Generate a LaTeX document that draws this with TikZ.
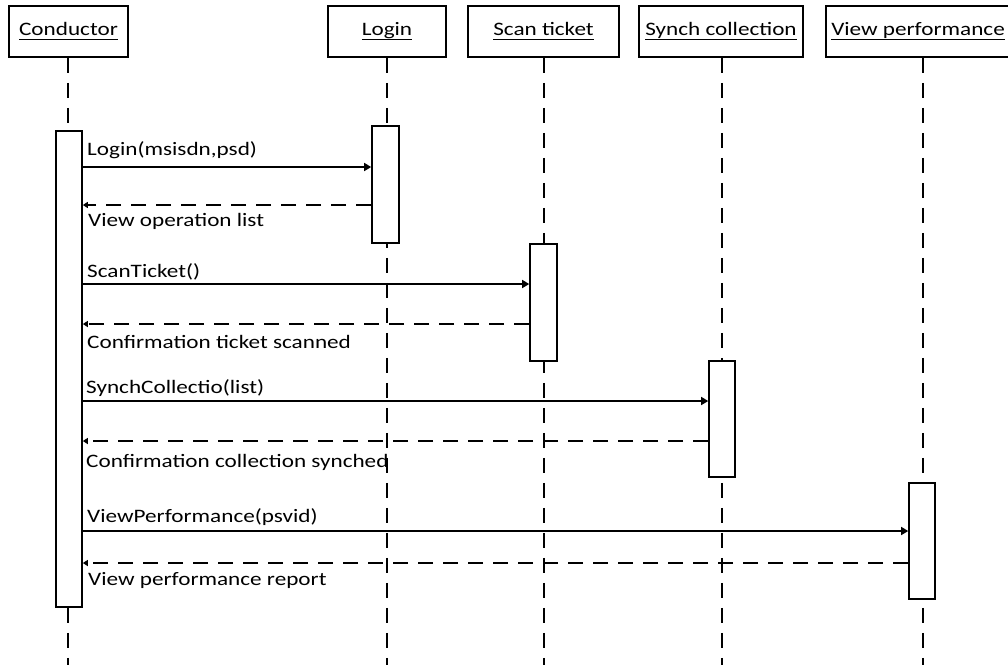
\documentclass[tikz,border=0pt]{standalone}
\usepackage{fontspec}
\setmainfont{Carlito}[FakeStretch=1.22]
\usetikzlibrary{arrows.meta}
\newcommand\hdul[1]{\setbox0\hbox{#1}\rlap{\rule[-4.6pt]{\wd0}{1.3pt}}\box0}
\tikzset{
  hdr/.style={draw, line width=1.6pt, minimum height=51pt, inner sep=0pt, font=\fontsize{19}{22}\selectfont},
  act/.style={draw, fill=white, line width=1.6pt, inner sep=0pt},
  life/.style={line width=1.5pt, dash pattern=on 15pt off 10pt},
  call/.style={line width=1.4pt, -{Triangle[length=7pt,width=8pt]}},
  ret/.style={line width=1.4pt, dash pattern=on 15pt off 10pt, -{Triangle[length=5pt,width=6pt]}},
  lbl/.style={anchor=base west, inner sep=0pt, font=\fontsize{19}{22}\selectfont}
}
\begin{document}
\begin{tikzpicture}[x=1pt,y=-1pt]
\useasboundingbox (0,0) rectangle (1008,665);
% headers
\node[hdr, minimum width=119pt] (hc) at (68.5,31.5) {\hdul{Conductor}};
\node[hdr, minimum width=118pt] (hl) at (387,31.5) {\hdul{Login}};
\node[hdr, minimum width=151pt] (hs) at (543.5,31.5) {\hdul{Scan ticket}};
\node[hdr, minimum width=164pt] (hy) at (721,31.5) {\hdul{Synch collection}};
\node[hdr, minimum width=184pt] (hv) at (918,31.5) {\hdul{View performance}};
% lifeline ends
\coordinate (ec) at (68,665);
\coordinate (el) at (387,665);
\coordinate (es) at (544,665);
\coordinate (ey) at (722,665);
\coordinate (ev) at (923,665);
\draw[life] (hc.south -| ec) -- (ec);
\draw[life] (hl.south -| el) -- (el);
\draw[life] (hs.south -| es) -- (es);
\draw[life] (hy.south -| ey) -- (ey);
\draw[life] (hv.south -| ev) -- (ev);
% activations
\node[act, minimum width=26pt, minimum height=476pt] (ac) at (69,369) {};
\node[act, minimum width=27pt, minimum height=117pt] (al) at (385.5,184.5) {};
\node[act, minimum width=27pt, minimum height=117pt] (as) at (543.5,302.5) {};
\node[act, minimum width=26pt, minimum height=116pt] (ay) at (722,419) {};
\node[act, minimum width=26pt, minimum height=116pt] (av) at (922,541) {};
% messages
\draw[call] (ac.east |- 0,167) -- (al.west |- 0,167);
\draw[ret] (al.west |- 0,205) -- (ac.east |- 0,205);
\draw[call] (ac.east |- 0,284) -- (as.west |- 0,284);
\draw[ret] (as.west |- 0,324) -- (ac.east |- 0,324);
\draw[call] (ac.east |- 0,401) -- (ay.west |- 0,401);
\draw[ret] (ay.west |- 0,441) -- (ac.east |- 0,441);
\draw[call] (ac.east |- 0,531) -- (av.west |- 0,531);
\draw[ret] (av.west |- 0,563) -- (ac.east |- 0,563);
% labels
\node[lbl] (m1) at (87,155) {Login(msisdn,psd)};
\node[lbl] (r1) at (88,226) {View operation list};
\node[lbl] (m2) at (87,277) {ScanTicket()};
\node[lbl] (r2) at (87,348) {Confirmation ticket scanned};
\node[lbl] (m3) at (86,393) {SynchCollectio(list)};
\node[lbl] (r3) at (86,467) {Confirmation collection synched};
\node[lbl] (m4) at (87,522) {ViewPerformance(psvid)};
\node[lbl] (r4) at (88,585) {View performance report};
\end{tikzpicture}
\end{document}
